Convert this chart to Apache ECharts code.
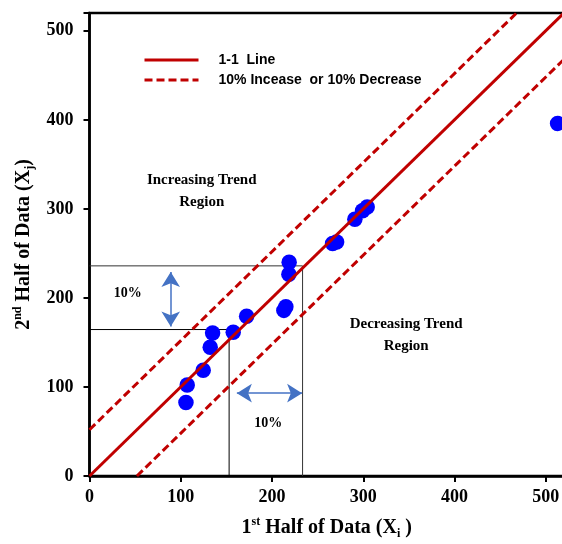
<!DOCTYPE html>
<html>
<head>
<meta charset="utf-8">
<script src="https://cdn.jsdelivr.net/npm/echarts@6/dist/echarts.min.js"></script>
<style>html,body{margin:0;padding:0;background:#fff;}#c{width:562px;height:544px;}</style>
</head>
<body>
<div id="c"></div>
<script>
// Data
const firstHalf  = [105.7, 107.1, 124.6, 132.3, 134.9, 157.5, 172.2, 213.0, 215.2, 218.5, 218.8, 266.4, 270.8, 290.8, 299.2, 304.3, 513.0];
const secondHalf = [82.5, 102.2, 118.8, 144.6, 160.7, 161.5, 179.4, 186.0, 190.0, 226.6, 240.0, 261.1, 262.9, 288.3, 297.8, 302.2, 396.0];
const axisTicks = [0, 100, 200, 300, 400, 500];
const axisMax = 520;
const bandOffset = 52;           // 10% band offset
const lowerRef = [153, 164.5];   // lower reference L (x, y)
const upperRef = [233.5, 236];   // upper reference L (x, y)
const vArrow = [89, 168, 229];   // x, y from, y to
const hArrow = [93, 161.5, 233]; // y, x from, x to
const seriesNames = ['1-1  Line', '10% Incease  or 10% Decrease'];
const annotations = [
  {name: 'Increasing Trend\nRegion', value: [123, 320]},
  {name: 'Decreasing Trend\nRegion', value: [347, 158]},
  {name: '10%', value: [42, 205]},
  {name: '10%', value: [196, 59]}
];

const points = firstHalf.map((x, i) => [x, secondHalf[i]]);
const serif = 'Liberation Serif';
const red = '#C00000';
const arrowBlue = '#4472C4';

const richName = {
  n: {fontFamily: serif, fontWeight: 'bold', fontSize: 20, color: '#000', lineHeight: 24},
  s: {fontFamily: serif, fontWeight: 'bold', fontSize: 12, color: '#000', verticalAlign: 'top', lineHeight: 12},
  b: {fontFamily: serif, fontWeight: 'bold', fontSize: 12, color: '#000', verticalAlign: 'bottom', lineHeight: 12}
};

const chart = echarts.init(document.getElementById('c'), null, {renderer: 'canvas'});
chart.setOption({
  animation: false,
  backgroundColor: '#fff',
  grid: {left: 89.5, top: 13, right: -2, bottom: 68, outerBoundsMode: 'none', containLabel: false,
    show: true, borderColor: '#000', borderWidth: 2.5, backgroundColor: 'transparent'},
  legend: {
    data: seriesNames,
    orient: 'vertical',
    left: 143, top: 53, padding: 0,
    itemWidth: 54, itemHeight: 14, itemGap: 6,
    itemStyle: {color: 'transparent', borderColor: 'transparent', borderWidth: 0, opacity: 0},
    lineStyle: {width: 3},
    textStyle: {fontFamily: 'Liberation Sans', fontWeight: 'bold', fontSize: 14, color: '#000', padding: [0, 0, 0, 15]}
  },
  xAxis: {
    type: 'value', min: 0, max: axisMax, interval: 100,
    name: '{n|1}{s|st}{n| Half of Data (X}{b|i}{n| )}',
    nameLocation: 'middle', nameGap: 40,
    nameTextStyle: {rich: richName},
    axisLine: {lineStyle: {color: '#000', width: 2.5}},
    axisTick: {length: 6, lineStyle: {color: '#000', width: 2}},
    axisLabel: {fontFamily: serif, fontWeight: 'bold', fontSize: 18, color: '#000', margin: 12,
      formatter: v => axisTicks.includes(v) ? String(v) : ''},
    splitLine: {show: false}
  },
  yAxis: {
    type: 'value', min: 0, max: axisMax, interval: 100,
    name: '{n|2}{s|nd}{n| Half of Data (X}{b|j}{n|)}',
    nameLocation: 'middle', nameGap: 47, nameRotate: 90,
    nameTextStyle: {rich: richName},
    axisLine: {lineStyle: {color: '#000', width: 2.5}},
    axisTick: {length: 6, lineStyle: {color: '#000', width: 2}},
    axisLabel: {fontFamily: serif, fontWeight: 'bold', fontSize: 18, color: '#000', margin: 16,
      formatter: v => axisTicks.includes(v) ? String(v) : ''},
    splitLine: {show: false}
  },
  series: [
    {
      name: 'ref-lower', type: 'line', silent: true, symbol: 'none',
      data: [[0, lowerRef[1]], [lowerRef[0], lowerRef[1]], [lowerRef[0], 0]],
      lineStyle: {color: '#000', width: 1}, z: 1
    },
    {
      name: 'ref-upper', type: 'line', silent: true, symbol: 'none',
      data: [[0, upperRef[1]], [upperRef[0], upperRef[1]], [upperRef[0], 0]],
      lineStyle: {color: '#333', width: 1}, z: 1
    },
    {
      name: 'arrows', type: 'line', silent: true, symbol: 'none', data: [],
      markLine: {
        silent: true, symbol: ['arrow', 'arrow'], symbolSize: [14, 15],
        label: {show: false},
        lineStyle: {color: arrowBlue, width: 1.5, type: 'solid', opacity: 1},
        data: [
          [{coord: [vArrow[0], vArrow[1]]}, {coord: [vArrow[0], vArrow[2]]}],
          [{coord: [hArrow[1], hArrow[0]]}, {coord: [hArrow[2], hArrow[0]]}]
        ]
      }, z: 2
    },
    {
      name: 'annot', type: 'scatter', silent: true, symbolSize: 0,
      itemStyle: {opacity: 1},
      data: annotations.map(a => a.name === '10%' ? Object.assign({}, a, {label: {fontSize: 14}}) : a),
      label: {show: true, position: 'inside', formatter: p => p.name, opacity: 1,
        fontFamily: serif, fontWeight: 'bold', fontSize: 15, color: '#000', lineHeight: 22, align: 'center'},
      z: 2
    },
    {
      name: 'data', type: 'scatter', symbol: 'circle', symbolSize: 15.5,
      itemStyle: {color: '#0000FF', opacity: 1}, data: points, z: 3
    },
    {
      name: seriesNames[1], type: 'line', symbol: 'none',
      data: [[0, bandOffset], [axisMax - bandOffset, axisMax]],
      lineStyle: {color: red, width: 3, type: [8, 4]}, itemStyle: {color: red}, z: 4
    },
    {
      name: seriesNames[1], type: 'line', symbol: 'none',
      data: [[bandOffset, 0], [axisMax, axisMax - bandOffset]],
      lineStyle: {color: red, width: 3, type: [8, 4]}, itemStyle: {color: red}, z: 4
    },
    {
      name: seriesNames[0], type: 'line', symbol: 'none',
      data: [[0, 0], [axisMax, axisMax]],
      lineStyle: {color: red, width: 3}, itemStyle: {color: red}, z: 5
    }
  ]
});
</script>
</body>
</html>
